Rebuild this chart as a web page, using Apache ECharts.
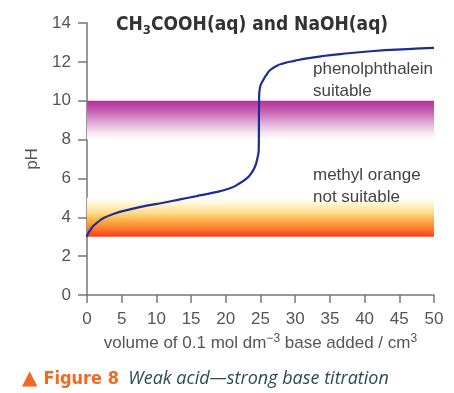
<!DOCTYPE html>
<html>
<head>
<meta charset="utf-8">
<script src="https://cdn.jsdelivr.net/npm/echarts@6/dist/echarts.min.js"></script>
<style>html,body{margin:0;padding:0;background:#fff;}#c{width:454px;height:393px;}</style>
</head>
<body>
<div id="c"></div>
<script>
var volume = [0, 0.05, 0.43, 0.9, 1.63, 2.35, 3.8, 6.2, 8.6, 11.0, 13.4, 15.8, 18.2, 20.6, 22.0, 23.0, 23.5, 24.2, 24.6, 24.75, 24.8, 24.95, 25.4, 25.9, 26.4, 27.3, 28.3, 30.0, 31.7, 34.0, 36.5, 41.3, 46.1, 50];
var pH =     [3.0, 3.09, 3.31, 3.55, 3.77, 3.95, 4.17, 4.41, 4.6, 4.75, 4.92, 5.09, 5.27, 5.49, 5.75, 6.0, 6.18, 6.6, 7.12, 7.5, 10.2, 10.72, 11.07, 11.36, 11.58, 11.79, 11.92, 12.06, 12.18, 12.3, 12.4, 12.56, 12.66, 12.72];
var xTicks = [0, 5, 10, 15, 20, 25, 30, 35, 40, 45, 50];
var yTicks = [0, 2, 4, 6, 8, 10, 12, 14];
var phenolRange = [8, 10];
var methylRange = [3, 5];

var chart = echarts.init(document.getElementById('c'));
var labelFont = 'Liberation Sans, Arial, sans-serif';
var pts = volume.map(function (v, i) { return [v, pH[i]]; });
var condensed = '"Liberation Sans Narrow", "DejaVu Sans Condensed", sans-serif';

chart.setOption({
  animation: false,
  grid: { left: 87, right: 20, top: 23, bottom: 98, containLabel: false },
  title: {
    text: '{a|CH}{s|3}{a|COOH(aq) and NaOH(aq)}',
    left: 111, top: 9,
    textStyle: {
      rich: {
        a: { fontFamily: condensed, fontWeight: 'bold', fontSize: 19, color: '#333' },
        s: { fontFamily: condensed, fontWeight: 'bold', fontSize: 13, color: '#333', verticalAlign: 'bottom', padding: [10, 0, 0, 0] }
      }
    }
  },
  xAxis: {
    type: 'value', min: 0, max: 50, interval: 5,
    axisLine: { lineStyle: { color: '#777', width: 1.5 } },
    axisTick: { show: true, length: 8, lineStyle: { color: '#777', width: 1.5 } },
    axisLabel: { color: '#555', fontSize: 17, fontFamily: labelFont, margin: 16 },
    splitLine: { show: false },
    name: '{t|volume of 0.1 mol dm}{sup|\u22123}{t| base added / cm}{sup|3}',
    nameLocation: 'middle', nameGap: 38,
    nameTextStyle: {
      rich: {
        t: { color: '#555', fontSize: 17, fontFamily: labelFont },
        sup: { color: '#555', fontSize: 12, fontFamily: labelFont, verticalAlign: 'top', padding: [0, 0, 9, 0] }
      }
    }
  },
  yAxis: {
    type: 'value', min: 0, max: 14, interval: 2,
    axisLine: { show: true, lineStyle: { color: '#777', width: 1.5 } },
    axisTick: { show: true, length: 9, lineStyle: { color: '#777', width: 1.5 } },
    axisLabel: { color: '#555', fontSize: 17, fontFamily: labelFont, margin: 16 },
    splitLine: { show: false },
    name: 'pH', nameLocation: 'middle', nameGap: 45, nameRotate: 90,
    nameTextStyle: { color: '#555', fontSize: 17, fontFamily: labelFont }
  },
  series: [{
    type: 'line',
    data: [],
    z: 1,
    markArea: {
      silent: true,
      z: 1,
      data: [
        [{ xAxis: 0, yAxis: phenolRange[1], itemStyle: { color: {
            type: 'linear', x: 0, y: 0, x2: 0, y2: 1,
            colorStops: [
              { offset: 0, color: '#b2309a' },
              { offset: 0.3, color: '#c966b4' },
              { offset: 0.6, color: '#e3b3da' },
              { offset: 0.85, color: '#f7eaf4' },
              { offset: 1, color: '#ffffff' }
            ] } } },
         { xAxis: 50, yAxis: phenolRange[0] }],
        [{ xAxis: 0, yAxis: methylRange[1], itemStyle: { color: {
            type: 'linear', x: 0, y: 0, x2: 0, y2: 1,
            colorStops: [
              { offset: 0, color: '#ffffff' },
              { offset: 0.15, color: '#fff6d4' },
              { offset: 0.4, color: '#fedb86' },
              { offset: 0.6, color: '#fcab42' },
              { offset: 0.8, color: '#fd7a2a' },
              { offset: 1, color: '#ff3b1c' }
            ] } } },
         { xAxis: 50, yAxis: methylRange[0] }]
      ]
    }
  }, {
    type: 'line',
    data: pts,
    smooth: 0.5,
    showSymbol: false,
    lineStyle: { color: '#1b2e98', width: 2.2 },
    z: 10
  }],
  graphic: [
    { type: 'text', left: 313, top: 58, z: 100, style: { text: 'phenolphthalein\nsuitable', fill: '#444', font: '17px Liberation Sans, Arial, sans-serif', lineHeight: 22 } },
    { type: 'text', left: 313, top: 164, z: 100, style: { text: 'methyl orange\nnot suitable', fill: '#444', font: '17px Liberation Sans, Arial, sans-serif', lineHeight: 22 } },
    { type: 'text', left: 22, top: 369, z: 100, style: {
        text: '{tri|\u25B2}{fig|Figure 8}{cap|  Weak acid\u2014strong base titration}',
        rich: {
          tri: { fill: '#f26a21', fontSize: 20, fontFamily: 'DejaVu Sans, sans-serif', padding: [0, 6, 0, 0] },
          fig: { fill: '#f26a21', fontSize: 18, fontWeight: 'bold', fontFamily: condensed },
          cap: { fill: '#2e4a52', fontSize: 18, fontStyle: 'italic', fontFamily: 'Open Sans, Liberation Sans, sans-serif' }
        }
      } }
  ]
});
</script>
</body>
</html>
